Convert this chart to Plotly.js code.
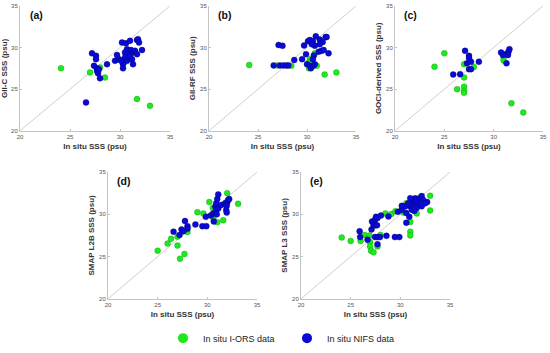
<!DOCTYPE html>
<html><head><meta charset="utf-8">
<script src="https://cdn.plot.ly/plotly-3.0.1.min.js"></script>
<style>html,body{margin:0;padding:0;background:#fff}#chart{width:550px;height:353px}</style>
</head><body><div id="chart"></div>
<script>
// Panel (a) GII-C
const aGreenX = [24.1, 27.0, 28.0, 28.5, 31.7, 33.0, 30.4, 30.9, 30.7];
const aGreenY = [27.5, 27.0, 27.6, 26.4, 23.8, 23.0, 28.2, 28.7, 29.0];
const aBlueX = [26.6, 27.2, 27.6, 27.6, 27.4, 27.7, 27.7, 27.8, 28.0, 27.9, 28.7, 29.5, 29.7, 29.9, 30.2, 30.6, 31.0, 31.7, 31.8, 31.9, 30.5, 30.7, 31.1, 31.3, 31.5, 31.7, 32.2, 30.8, 30.5, 30.7, 30.3, 30.3, 31.2, 31.3, 30.1, 31.0];
const aBlueY = [23.4, 29.3, 29.0, 28.6, 27.8, 27.5, 27.2, 26.9, 26.3, 27.4, 28.0, 28.4, 29.1, 28.6, 30.6, 30.5, 30.8, 30.9, 31.0, 30.6, 29.4, 29.8, 29.7, 29.4, 29.6, 29.2, 29.7, 29.2, 28.8, 28.4, 28.0, 27.5, 28.6, 28.0, 28.4, 29.0];
// Panel (b) GII-RF
const bGreenX = [24.1, 27.0, 28.4, 33.0, 31.8, 31.0, 30.2, 30.3, 30.8, 30.2];
const bGreenY = [27.9, 27.85, 27.8, 27.0, 26.75, 27.8, 27.5, 28.6, 29.3, 28.2];
const bBlueX = [26.6, 27.1, 27.5, 27.25, 27.6, 27.9, 28.1, 28.7, 29.5, 29.7, 29.9, 30.1, 30.3, 30.6, 30.9, 31.3, 31.6, 31.9, 32.0, 31.3, 30.8, 30.5, 31.2, 31.5, 31.7, 32.2, 30.7, 30.0, 30.3, 30.4, 30.65, 30.8, 30.6];
const bBlueY = [27.85, 30.3, 30.2, 27.85, 27.85, 27.85, 27.85, 28.5, 28.6, 30.25, 29.2, 30.75, 30.9, 30.75, 31.35, 30.95, 30.65, 31.25, 31.25, 30.4, 30.2, 30.4, 29.5, 29.6, 29.7, 29.3, 29.05, 28.0, 27.8, 27.5, 27.8, 28.0, 28.6];
// Panel (c) GOCI-derived
const cGreenX = [24.0, 25.0, 26.3, 27.0, 27.0, 27.0, 27.0, 27.0, 28.0, 31.0, 31.0, 31.8, 33.0];
const cGreenY = [27.7, 29.3, 25.0, 28.0, 26.4, 25.3, 24.8, 24.55, 27.65, 28.8, 28.45, 23.3, 22.2];
const cBlueX = [25.9, 26.6, 27.1, 27.5, 27.5, 27.3, 27.7, 27.5, 27.7, 28.5, 30.75, 31.2, 31.5, 31.6, 31.3, 30.95, 31.45];
const cBlueY = [26.75, 26.8, 29.6, 29.0, 28.75, 28.1, 28.3, 27.4, 27.4, 28.3, 29.4, 29.2, 29.5, 29.8, 28.1, 29.1, 29.1];
// Panel (d) SMAP L2B
const dGreenX = [25.0, 26.0, 26.35, 27.0, 27.0, 27.25, 27.7, 28.0, 29.0, 29.6, 30.2, 30.6, 30.55, 31.0, 30.9, 31.6, 32.0, 33.1];
const dGreenY = [25.7, 26.55, 27.1, 27.35, 26.3, 24.75, 25.3, 27.9, 30.25, 30.1, 31.45, 29.6, 30.75, 29.05, 31.1, 29.3, 32.5, 31.25];
const dBlueX = [26.6, 27.2, 27.4, 27.75, 28.0, 28.0, 27.6, 28.8, 29.5, 29.9, 29.85, 30.35, 30.6, 30.8, 30.9, 31.0, 31.1, 30.65, 30.9, 31.1, 31.4, 31.8, 32.0, 32.1, 32.2, 31.95, 31.9, 31.95, 30.95];
const dBlueY = [27.95, 27.55, 28.2, 29.2, 28.6, 28.3, 28.0, 28.8, 28.6, 28.6, 29.7, 29.85, 30.1, 30.9, 31.3, 31.8, 32.35, 29.15, 30.45, 30.7, 31.1, 31.3, 31.4, 31.7, 31.8, 31.0, 30.5, 30.2, 30.0];
// Panel (e) SMAP L3
const eGreenX = [24.1, 25.0, 26.0, 26.4, 26.9, 26.95, 26.95, 27.05, 27.3, 27.7, 28.0, 28.5, 29.1, 29.5, 31.0, 31.0, 31.0, 31.65, 32.05, 33.0, 33.0, 30.6, 31.2, 32.0, 31.7, 30.3];
const eGreenY = [27.25, 26.85, 26.85, 27.55, 27.5, 26.7, 26.2, 25.7, 25.5, 26.2, 27.55, 30.1, 30.05, 30.35, 29.1, 27.95, 27.5, 30.1, 31.2, 32.2, 30.45, 31.3, 30.9, 32.0, 31.6, 30.2];
const eBlueX = [25.9, 25.95, 26.7, 27.1, 27.15, 27.45, 27.55, 27.7, 27.3, 27.5, 27.65, 27.45, 27.7, 27.95, 27.7, 28.05, 28.6, 28.8, 29.45, 29.9, 29.75, 30.15, 30.6, 30.6, 30.9, 31.0, 31.15, 31.3, 31.5, 31.65, 32.0, 32.15, 32.3, 32.7, 30.8, 30.5, 30.15, 31.15, 31.65, 32.0, 32.5, 31.0, 32.15, 31.65, 31.4];
const eBlueY = [28.0, 27.3, 27.0, 28.2, 29.15, 29.35, 29.7, 29.55, 28.7, 28.7, 28.7, 27.3, 27.3, 27.3, 26.45, 29.85, 27.45, 29.75, 27.3, 27.3, 30.3, 30.55, 30.15, 29.0, 29.7, 30.95, 31.3, 31.7, 31.9, 31.7, 31.9, 32.15, 31.7, 31.45, 31.3, 30.95, 31.0, 30.55, 31.1, 31.3, 31.3, 31.9, 30.95, 30.75, 30.4];

const panelLabels = ['(a)', '(b)', '(c)', '(d)', '(e)'];
const yTitles = ['GII-C SSS (psu)', 'GII-RF SSS (psu)', 'GOCI-derived SSS (psu)', 'SMAP L2B SSS (psu)', 'SMAP L3 SSS (psu)'];
const xTitle = 'In situ SSS (psu)';
const legendNames = ['In situ I-ORS data', 'In situ NIFS data'];
const tickVals = [20, 25, 30, 35];
const axisRange = [20, 35];

const GREEN = '#1ee81e', BLUE = '#0a0ad8';
const panels = [
  [aGreenX, aGreenY, aBlueX, aBlueY],
  [bGreenX, bGreenY, bBlueX, bBlueY],
  [cGreenX, cGreenY, cBlueX, cBlueY],
  [dGreenX, dGreenY, dBlueX, dBlueY],
  [eGreenX, eGreenY, eBlueX, eBlueY]
];
// pixel boxes [left, right, top, bottom]
const W = 550, H = 353;
const boxes = [
  [20, 170, 6, 133],
  [209, 356, 6, 133],
  [395, 543, 6, 133],
  [108, 257, 175, 304],
  [301, 450, 175, 304]
];

const traces = [];
const layout = {
  width: W, height: H,
  margin: {l: 0, r: 0, t: 0, b: 0},
  paper_bgcolor: '#fff', plot_bgcolor: 'rgba(0,0,0,0)',
  font: {family: 'Arial, "Liberation Sans", sans-serif', color: '#333'},
  showlegend: true,
  legend: {orientation: 'h', x: 163 / 550, xanchor: 'left', y: 1 - 344 / 353, yanchor: 'middle',
           font: {size: 9, color: '#222'}, itemwidth: 30, entrywidth: 79, bgcolor: 'rgba(0,0,0,0)'},
  shapes: [], annotations: []
};

panels.forEach((p, i) => {
  const n = i + 1;
  const xa = 'x' + (n === 1 ? '' : n), ya = 'y' + (n === 1 ? '' : n);
  traces.push({type: 'scatter', mode: 'markers', x: p[0], y: p[1], xaxis: xa, yaxis: ya, showlegend: false,
    marker: {color: GREEN, size: 6, line: {color: 'rgba(0,120,0,0.5)', width: 0.5}}});
  traces.push({type: 'scatter', mode: 'markers', x: p[2], y: p[3], xaxis: xa, yaxis: ya, showlegend: false,
    marker: {color: BLUE, size: 6, line: {color: 'rgba(0,0,90,0.7)', width: 0.5}}});
  const b = boxes[i];
  const axCommon = {range: axisRange, tickvals: tickVals, showgrid: false, zeroline: false,
    showline: true, linecolor: '#c4c4c4', linewidth: 1, ticks: 'inside', ticklen: 2, tickcolor: '#c4c4c4',
    tickfont: {size: 6, color: '#555'}, automargin: false, fixedrange: true};
  layout['xaxis' + (n === 1 ? '' : n)] = Object.assign({}, axCommon, {
    domain: [b[0] / W, b[1] / W], anchor: ya,
    title: {text: '<b>' + xTitle + '</b>', font: {size: 8, color: '#333'}, standoff: 4}
  });
  layout['yaxis' + (n === 1 ? '' : n)] = Object.assign({}, axCommon, {
    domain: [1 - b[3] / H, 1 - b[2] / H], anchor: xa,
    title: {text: '<b>' + yTitles[i] + '</b>', font: {size: 8, color: '#333'}, standoff: 3}
  });
  layout.shapes.push({type: 'line', xref: xa, yref: ya, x0: axisRange[0], y0: axisRange[0], x1: axisRange[1], y1: axisRange[1],
    line: {color: '#cfcfcf', width: 1}, layer: 'below'});
  layout.annotations.push({text: '<b>' + panelLabels[i] + '</b>', xref: xa + ' domain', yref: ya + ' domain',
    x: 0.05, y: 0.93, xanchor: 'left', yanchor: 'middle', showarrow: false, font: {size: 10.5, color: '#111'}});
});

// legend-only entries (no data drawn)
traces.push({type: 'scatter', mode: 'markers', x: [null], y: [null], name: legendNames[0], marker: {color: GREEN, size: 10}});
traces.push({type: 'scatter', mode: 'markers', x: [null], y: [null], name: legendNames[1], marker: {color: BLUE, size: 10}});

Plotly.newPlot('chart', traces, layout, {staticPlot: true, displayModeBar: false});
</script></body></html>
